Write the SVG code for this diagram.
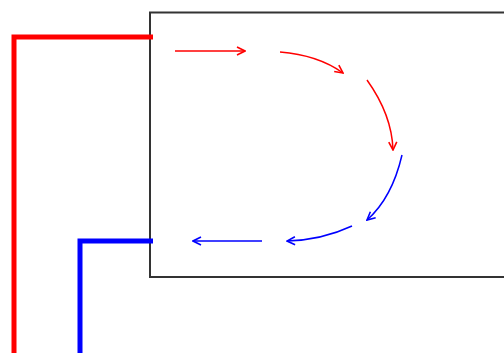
<svg xmlns="http://www.w3.org/2000/svg" width="504" height="353" viewBox="0 0 504 353">
<defs>
<marker id="ar" viewBox="0 0 10 10" refX="9" refY="5" markerWidth="10" markerHeight="10" markerUnits="userSpaceOnUse" orient="auto"><path d="M1,1 L9,5 L1,9" fill="none" stroke="#ff0000" stroke-width="1.6"/></marker>
<marker id="ab" viewBox="0 0 10 10" refX="9" refY="5" markerWidth="10" markerHeight="10" markerUnits="userSpaceOnUse" orient="auto"><path d="M1,1 L9,5 L1,9" fill="none" stroke="#0000ff" stroke-width="1.6"/></marker>
<style>
.r{fill:none;stroke:#ff0000;stroke-width:1.5;marker-end:url(#ar)}
.b{fill:none;stroke:#0000ff;stroke-width:1.5;marker-end:url(#ab)}
</style>
</defs>
<rect width="504" height="353" fill="#fff"/>
<g id="box"><rect x="150" y="12.5" width="360" height="264.5" fill="none" stroke="#333" stroke-width="2"/></g>
<g id="connectors">
<polyline points="153,37 14,37 14,353" fill="none" stroke="#ff0000" stroke-width="5"/>
<polyline points="153,241 80,241 80,353" fill="none" stroke="#0000ff" stroke-width="5"/>
<path class="r" d="M175,51 L245,51"/>
<path class="r" d="M280,52 Q318,55 343,73"/>
<path class="r" d="M367,80 Q392,115 393,150"/>
<path class="b" d="M402,155 Q392,198 367,220"/>
<path class="b" d="M352,226 Q322,240 287,241"/>
<path class="b" d="M262,241 L193,241"/>
</g>
</svg>
